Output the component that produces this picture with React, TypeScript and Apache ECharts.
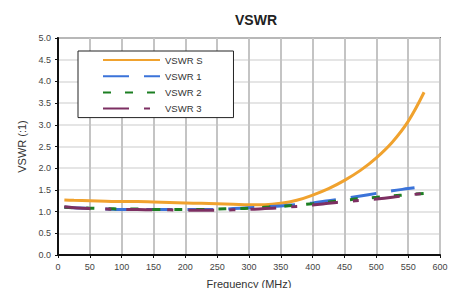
import React, { useEffect, useRef } from "react";
import * as echarts from "echarts";

const freq = [10, 25, 50, 75, 100, 125, 150, 175, 200, 225, 250, 275, 300, 325, 350, 375, 400, 425, 450, 475, 500, 525, 550, 575];
const vswrS = [1.27, 1.26, 1.25, 1.24, 1.23, 1.23, 1.22, 1.21, 1.2, 1.19, 1.18, 1.17, 1.16, 1.16, 1.19, 1.26, 1.38, 1.53, 1.72, 1.95, 2.24, 2.6, 3.08, 3.75];
const freq1 = [10, 25, 50, 75, 100, 125, 150, 175, 200, 225, 250, 275, 300, 325, 350, 375, 400, 425, 450, 475, 500, 525, 550, 560];
const vswr1 = [1.1, 1.09, 1.07, 1.06, 1.05, 1.05, 1.05, 1.05, 1.05, 1.05, 1.05, 1.07, 1.09, 1.11, 1.13, 1.16, 1.2, 1.25, 1.3, 1.36, 1.42, 1.48, 1.53, 1.55];
const vswr2 = [1.1, 1.09, 1.08, 1.07, 1.06, 1.06, 1.05, 1.05, 1.05, 1.05, 1.06, 1.07, 1.08, 1.1, 1.12, 1.15, 1.18, 1.22, 1.26, 1.3, 1.33, 1.36, 1.39, 1.42];
const vswr3 = [1.11, 1.09, 1.07, 1.06, 1.05, 1.05, 1.04, 1.04, 1.03, 1.03, 1.03, 1.04, 1.05, 1.07, 1.09, 1.12, 1.15, 1.19, 1.23, 1.26, 1.29, 1.33, 1.38, 1.42];
const seriesNames = ["VSWR S", "VSWR 1", "VSWR 2", "VSWR 3"];

const pairs = (xs: number[], ys: number[]) => xs.map((x, i) => [x, ys[i]]);

export default function App() {
  const ref = useRef<HTMLDivElement>(null);
  useEffect(() => {
    const chart = echarts.init(ref.current!, null, { renderer: "svg" });
    const font = "'Liberation Sans', Arial, sans-serif";
    const lbl = { color: "#444", fontSize: 9, fontFamily: font };
    const mk = (name: string, data: number[][], color: string, type: any) => ({
      name,
      type: "line",
      smooth: 0.4,
      showSymbol: false,
      symbol: "none",
      data,
      lineStyle: { color, width: 3, type },
      itemStyle: { color },
    });
    chart.setOption({
      animation: false,
      backgroundColor: "#fff",
      title: {
        text: "VSWR",
        left: 251,
        top: 8,
        textAlign: "center",
        textStyle: { fontSize: 14, fontWeight: "bold", color: "#222", fontFamily: font },
      },
      legend: {
        orient: "vertical",
        left: 78,
        top: 51,
        itemWidth: 57,
        itemHeight: 10,
        itemGap: 6.2,
        itemTextGap: 6,
        padding: [4, 31, 4, 24],
        backgroundColor: "#fff",
        borderColor: "#222",
        borderWidth: 1,
        itemStyle: { opacity: 0 },
        textStyle: { fontSize: 9.5, color: "#333", fontFamily: font },
        data: seriesNames,
      },
      grid: {
        left: 58,
        right: 19,
        top: 38,
        bottom: 33,
        show: true,
        borderColor: "#111",
        borderWidth: 1.5,
        containLabel: false,
        outerBoundsMode: "none",
      },
      xAxis: {
        type: "value",
        min: 0,
        max: 600,
        interval: 50,
        name: "Frequency (MHz)",
        nameLocation: "middle",
        nameGap: 23,
        nameTextStyle: { fontSize: 11, color: "#333", fontFamily: font },
        axisLine: { show: true, lineStyle: { color: "#111", width: 2 } },
        axisTick: { show: true, length: 3, lineStyle: { color: "#111" } },
        axisLabel: { ...lbl, margin: 7 },
        splitLine: { show: true, lineStyle: { color: "#c4c4c4", width: 2 } },
      },
      yAxis: {
        type: "value",
        min: 0,
        max: 5,
        interval: 0.5,
        name: "VSWR (:1)",
        nameLocation: "middle",
        nameGap: 30,
        nameTextStyle: { fontSize: 11, color: "#333", fontFamily: font },
        axisLine: { show: true, lineStyle: { color: "#111", width: 2 } },
        axisTick: { show: true, length: 3, lineStyle: { color: "#111" } },
        axisLabel: { ...lbl, margin: 7, formatter: (v: number) => v.toFixed(1) },
        splitLine: { show: true, lineStyle: { color: "#dcdcdc", width: 1.5 } },
      },
      series: [
        mk("VSWR S", pairs(freq, vswrS), "#f0a22e", "solid"),
        mk("VSWR 1", pairs(freq1, vswr1), "#3b73d9", [26, 15]),
        mk("VSWR 2", pairs(freq, vswr2), "#1c7f22", [8, 14]),
        mk("VSWR 3", pairs(freq, vswr3), "#7d2f62", [26, 15, 6, 15]),
      ],
    });
    return () => chart.dispose();
  }, []);
  return <div ref={ref} style={{ width: 459, height: 288, position: "absolute", left: 0, top: 0 }} />;
}
